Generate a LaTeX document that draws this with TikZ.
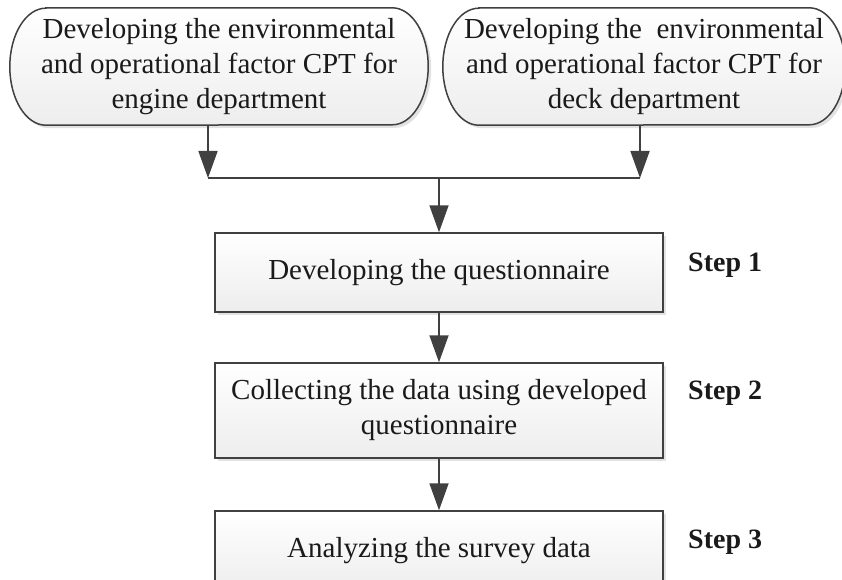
\documentclass[tikz,border=0pt]{standalone}
\usepackage{fontspec}
\setmainfont{Liberation Serif}
\usetikzlibrary{arrows.meta,shadows,backgrounds,calc}
\definecolor{edge}{HTML}{404040}
\definecolor{txt}{HTML}{1A1A1A}
\tikzset{
  base/.style={font=\fontsize{29}{35}\selectfont, text=txt, align=center, inner sep=0pt},
  stepbox/.style={base, draw=edge, line width=1.5pt, top color=white, bottom color=gray!14,
     drop shadow={shadow xshift=3pt, shadow yshift=-3pt, fill=gray!45, opacity=0.5}},
  capsule/.style={base, draw=none},
  capshape/.style={draw=edge, line width=1.5pt, top color=white, bottom color=gray!14,
     drop shadow={shadow xshift=3pt, shadow yshift=-3pt, fill=gray!45, opacity=0.5}},
  conn/.style={draw=edge, line width=1.8pt},
  arr/.style={conn, -{Triangle[length=27pt,width=19pt]}},
  steplabel/.style={font=\fontsize{28}{32}\selectfont\bfseries, text=txt, anchor=west, inner sep=0pt}
}
\begin{document}
\begin{tikzpicture}[x=1pt,y=1pt]
\useasboundingbox (0,0) rectangle (842,-580);
% top capsules
\node[capsule, minimum width=418pt, minimum height=117pt] (L) at (219,-66.5)
  {Developing the environmental\\and operational factor CPT for\\engine department};
\node[capsule, minimum width=402pt, minimum height=117pt] (R) at (644,-66.5)
  {Developing the~ environmental\\and operational factor CPT for\\deck department};
\begin{scope}[on background layer]
\foreach \n in {L,R}{
  \path[capshape] ($(\n.north west)+(36,0)$) -- ($(\n.north east)+(-36,0)$)
    arc[start angle=90,end angle=-90,x radius=36,y radius=58.5]
    -- ($(\n.south west)+(36,0)$)
    arc[start angle=270,end angle=90,x radius=36,y radius=58.5] -- cycle;
}
\end{scope}
% step boxes
\node[stepbox, minimum width=448pt, minimum height=79pt] (S1) at (439,-272.5) {Developing the questionnaire};
\node[stepbox, minimum width=448pt, minimum height=95pt] (S2) at (439,-410.5) {Collecting the data using developed\\questionnaire};
\node[stepbox, minimum width=448pt, minimum height=80pt] (S3) at (439,-551) {Analyzing the survey data};
% step labels
\node[steplabel] (T1) at (688,-265) {Step 1};
\node[steplabel] (T2) at (688,-393) {Step 2};
\node[steplabel] (T3) at (688,-542) {Step 3};
% connectors
\coordinate (jl) at (208,-178);
\coordinate (jr) at (640,-178);
\coordinate (jm) at (439,-178);
\draw[arr] (L.south -| jl) -- (jl);
\draw[arr] (R.south -| jr) -- (jr);
\draw[conn] (jl) -- (jr);
\draw[arr] (jm) -- (S1.north);
\draw[arr] (S1) -- (S2);
\draw[arr] (S2) -- (S3);
\end{tikzpicture}
\end{document}
